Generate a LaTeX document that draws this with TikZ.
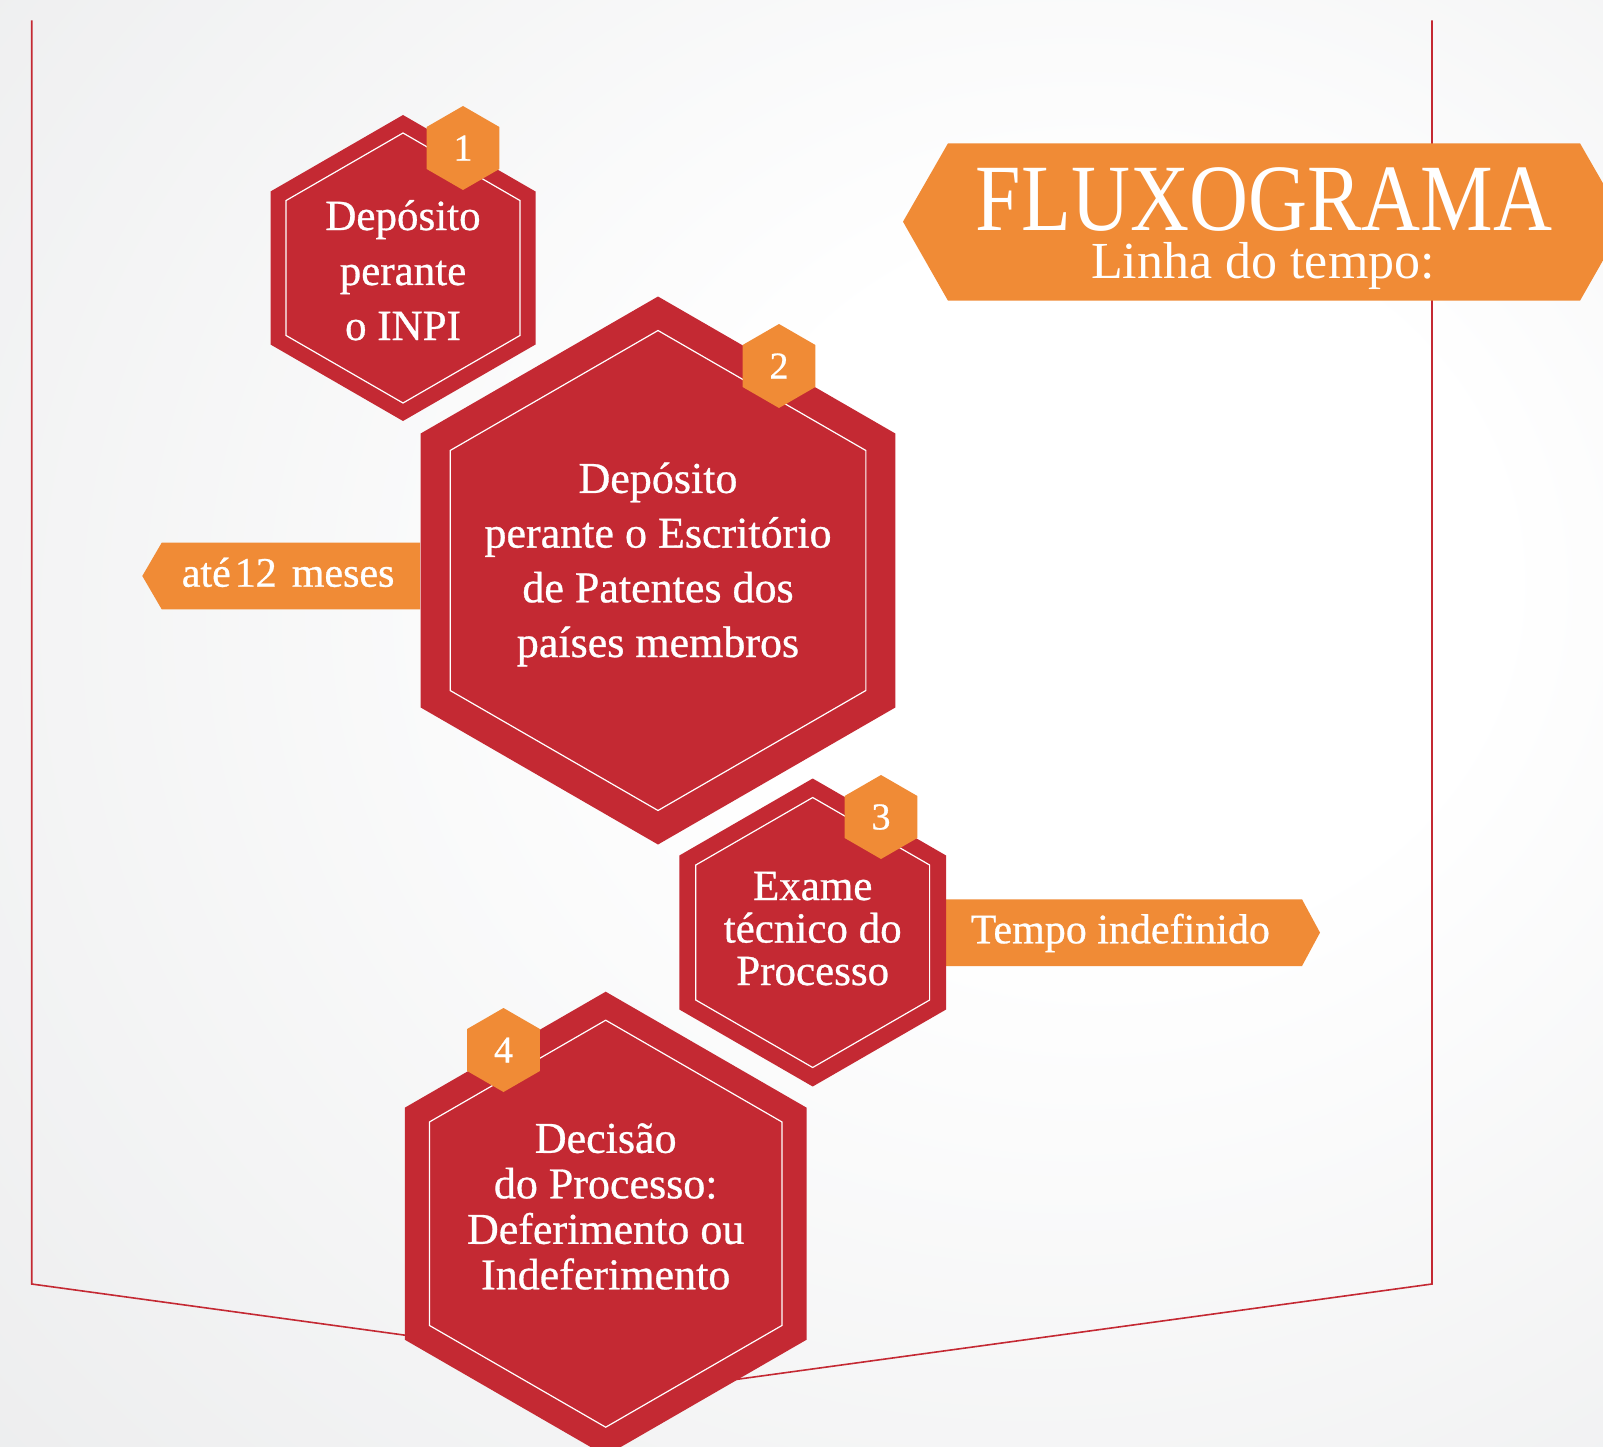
\documentclass[tikz,border=0pt]{standalone}
\usepackage{fontspec}
\setmainfont{Liberation Serif}
\newfontfamily\titlefont[FakeStretch=0.86]{Liberation Serif}
\newfontfamily\heavyfont[FakeBold=0.7]{Liberation Serif}
\usetikzlibrary{shapes.geometric}

\definecolor{hexred}{RGB}{196,41,51}
\definecolor{taborange}{RGB}{240,139,54}
\definecolor{bggray}{RGB}{220,221,223}
\pgfdeclareradialshading{pagebg}{\pgfpoint{12bp}{6bp}}{color(0bp)=(white); color(12bp)=(white); color(68bp)=(bggray)}

\begin{document}
\begin{tikzpicture}[x=1pt, y=-1pt,
  hex/.style={regular polygon, regular polygon sides=6, shape border rotate=30,
    fill=hexred, inner sep=0pt, outer sep=0pt},
  hexline/.style={regular polygon, regular polygon sides=6, shape border rotate=30,
    draw=white, line width=1.2pt, inner sep=0pt},
  badge/.style={regular polygon, regular polygon sides=6, shape border rotate=30,
    fill=taborange, text=white, inner sep=0pt, minimum size=84pt,
    font=\heavyfont\fontsize{38}{38}\selectfont},
  hextext/.style={text=white, align=center, anchor=base},
  tagtext/.style={text=white, anchor=base west, font=\heavyfont\fontsize{42}{42}\selectfont},
  frame/.style={draw=hexred, line width=1.6pt}]

\useasboundingbox (0,0) rectangle (1603,1447);
\clip (0,0) rectangle (1603,1447);
\shade[shading=pagebg] (0,0) rectangle (1603,1447);

% frame
\draw[frame] (31.7,20.4) -- (31.7,1284) -- (732,1380) -- (1432,1284) -- (1432,20.4);

% title banner
\fill[taborange] (903,221.7) -- (948,143.3) -- (1580,143.3) -- (1625,221.7)
  -- (1580,300.7) -- (948,300.7) -- cycle;
\node[text=white, anchor=base, font=\titlefont\fontsize{95}{95}\selectfont] (title) at (1264,231) {FLUXOGRAMA};
\node[text=white, anchor=base, font=\fontsize{52}{52}\selectfont] (subtitle) at (1263,278.3) {Linha do tempo:};

% time tags
\fill[taborange] (420,542.7) -- (161.7,542.7) -- (142.3,576) -- (161.7,609.3) -- (420,609.3) -- cycle;
\fill[taborange] (900,899.3) -- (1302,899.3) -- (1320,932.6) -- (1302,966) -- (900,966) -- cycle;
\node[tagtext] (months) at (178.3,586.7) {até\kern4pt12\hspace{15pt}meses};
\node[tagtext] (undefined) at (967.2,943.3) {Tempo indefinido};

% steps
\node[hex, minimum size=306pt] (step1) at (403,268) {};
\node[hexline, minimum size=270pt] (step1in) at (step1) {};
\node[hex, minimum size=548pt] (step2) at (658,570.5) {};
\node[hexline, minimum size=480pt] (step2in) at (step2) {};
\node[hex, minimum size=308pt] (step3) at (812.7,932.5) {};
\node[hexline, minimum size=270pt] (step3in) at (step3) {};
\node[hex, minimum size=464pt] (step4) at (605.7,1223.7) {};
\node[hexline, minimum size=407pt] (step4in) at (step4) {};

\foreach \n/\x/\y in {1/463/148, 2/779/366, 3/881/817, 4/503.5/1050}
  \node[badge] (badge\n) at (\x,\y) {\n};

% texts (base = last line)
\node[hextext, font=\heavyfont\fontsize{43}{55}\selectfont] (text1) at (403,340)
  {Depósito\\perante\\o INPI};
\node[hextext, font=\heavyfont\fontsize{44}{54.7}\selectfont] (text2) at (658,657)
  {Depósito\\perante o Escritório\\de Patentes dos\\países membros};
\node[hextext, font=\heavyfont\fontsize{43}{42.5}\selectfont] (text3) at (812.7,985)
  {Exame\\técnico do\\Processo};
\node[hextext, font=\heavyfont\fontsize{44}{45.5}\selectfont] (text4) at (605.7,1289.3)
  {Decisão\\do Processo:\\Deferimento ou\\Indeferimento};

\end{tikzpicture}
\end{document}
